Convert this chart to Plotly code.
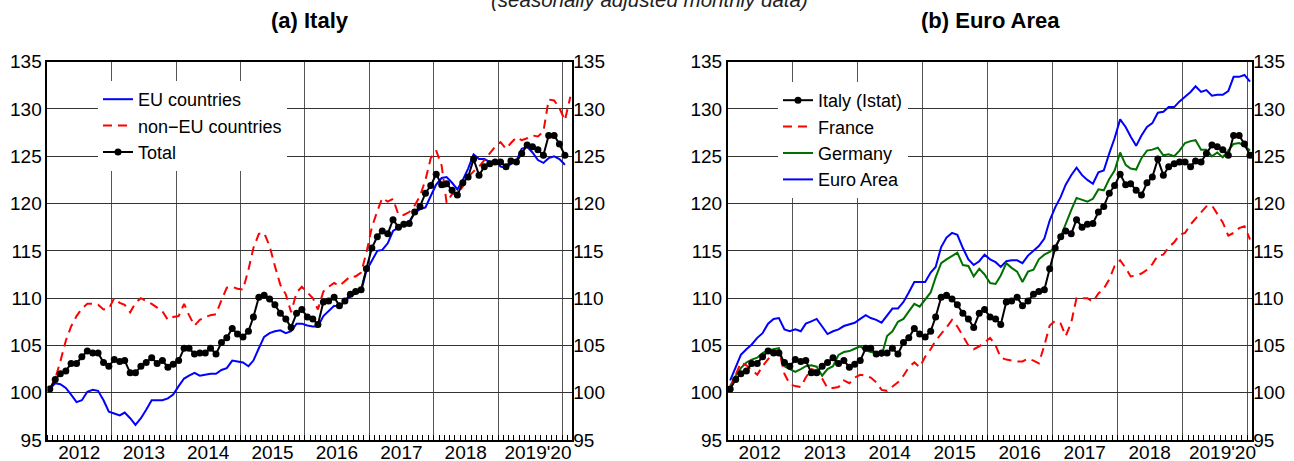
import plotly.graph_objects as go
import pandas as pd

# ---------------- data (monthly, Jan 2012 onwards) ----------------
total = [100.4, 101.4, 102.0, 102.3, 103.1, 103.1, 103.8, 104.4, 104.2, 104.2, 103.2, 102.8,
         103.5, 103.3, 103.4, 102.1, 102.1, 102.8, 103.2, 103.7, 103.1, 103.4, 102.7, 103.0,
         103.4, 104.7, 104.7, 104.1, 104.2, 104.2, 104.7, 104.1, 105.3, 105.8, 106.8, 106.2,
         105.9, 106.5, 108.0, 110.1, 110.3, 109.9, 109.3, 108.4, 107.8, 106.9, 108.4, 108.8,
         108.0, 107.8, 107.2, 109.6, 109.7, 110.1, 109.2, 109.7, 110.4, 110.7, 110.9, 113.1,
         115.3, 116.5, 117.1, 116.8, 118.3, 117.5, 117.8, 117.9, 119.1, 119.7, 121.1, 121.9,
         123.1, 122.0, 122.1, 121.4, 120.9, 122.2, 122.8, 124.7, 123.0, 123.9, 124.2, 124.4,
         124.4, 123.9, 124.5, 124.4, 125.3, 126.2, 126.0, 125.7, 125.1, 127.2, 127.2, 126.3,
         125.1]
eu = [100.4, 101.0, 100.9, 100.5, 99.8, 99.0, 99.2, 100.1, 100.3, 100.2, 99.2, 98.0,
      97.8, 97.6, 97.9, 97.3, 96.6, 97.3, 98.2, 99.2, 99.2, 99.2, 99.4, 99.8,
      100.7, 101.5, 101.8, 102.1, 101.8, 101.9, 102.0, 102.0, 102.4, 102.6, 103.4, 103.3,
      103.2, 102.8, 103.4, 104.7, 105.9, 106.3, 106.5, 106.6, 106.3, 106.5, 107.3, 107.3,
      107.1, 107.0, 107.0, 108.1, 108.6, 109.2, 109.1, 109.6, 110.2, 110.5, 110.7, 112.9,
      114.0, 115.0, 115.1, 115.8, 117.1, 117.5, 117.8, 118.1, 119.0, 119.4, 119.6, 120.8,
      122.0, 122.7, 122.8, 122.2, 121.5, 122.5, 123.7, 125.2, 124.7, 124.7, 124.4, 124.5,
      123.9, 123.8, 124.2, 124.5, 125.8, 126.0, 125.4, 124.6, 124.3, 124.8, 125.0, 124.7,
      124.1]
non_eu = [100.4, 101.5, 103.3, 105.5, 107.0, 108.1, 108.9, 109.4, 109.4, 109.3, 108.8, 108.9,
          110.0, 109.5, 109.3, 108.5, 109.5, 110.0, 109.7, 109.4, 109.0, 108.6, 107.7, 108.0,
          108.1, 109.4, 108.2, 107.1, 107.7, 108.0, 108.2, 108.3, 109.8, 111.1, 111.2, 111.0,
          110.9, 113.0, 115.3, 116.8, 116.9, 115.5, 113.4, 111.4, 110.4, 108.5, 110.6, 111.2,
          110.6, 110.0, 108.8, 110.7, 111.2, 111.6, 111.3, 111.8, 112.3, 112.3, 112.7, 114.8,
          117.5, 119.2, 120.6, 120.2, 120.5, 118.8, 118.8, 119.1, 119.8, 120.8, 122.5, 124.8,
          125.6, 124.0, 120.1, 121.0, 121.0, 121.8, 122.8, 123.4, 123.9, 124.6, 125.3, 126.0,
          126.5, 125.8, 126.4, 127.0, 126.7, 126.9, 127.2, 127.1, 127.6, 131.0, 130.9, 130.1,
          128.8, 131.3]
germany = [100.7, 101.8, 102.6, 103.2, 103.5, 103.7, 104.2, 104.5, 104.6, 104.7, 102.8, 102.5,
           102.2, 102.5, 102.8, 102.9, 102.75, 101.8, 102.5, 102.8, 104.0, 104.3, 104.4, 104.65,
           104.9, 104.5, 104.3, 104.2, 103.9, 106.0, 106.5, 107.5, 107.8, 108.6, 109.4, 109.1,
           109.9, 110.6, 112.2, 113.7, 114.1, 114.5, 114.8, 113.5, 113.4, 112.3, 113.1, 112.5,
           111.6, 111.5, 112.4, 113.7, 113.2, 112.8, 111.7, 112.8, 113.0, 114.1, 114.6, 114.9,
           115.4, 116.5, 117.9, 119.3, 120.6, 120.4, 120.2, 120.5, 121.5, 121.4, 122.6, 123.5,
           125.4, 124.1, 123.7, 123.6, 124.8, 125.6, 125.7, 125.9, 125.1, 125.2, 125.0, 125.6,
           126.4, 126.6, 126.7, 125.7, 125.7, 125.0, 125.4, 124.9, 125.6, 126.3, 126.4, 126.1,
           125.6]
euro_area = [101.3, 102.6, 104.0, 104.6, 105.1, 105.8, 106.3, 107.3, 107.8, 107.9, 106.7, 106.5,
             106.7, 106.5, 107.3, 107.55, 107.8, 107.0, 106.2, 106.5, 106.7, 107.05, 107.2, 107.4,
             107.8, 108.2, 107.9, 107.7, 107.4, 108.1, 108.9, 108.9, 109.6, 110.6, 111.7, 111.7,
             111.7, 112.7, 113.3, 115.4, 116.4, 116.9, 116.7, 115.3, 114.1, 113.5, 113.9, 114.6,
             114.1, 113.8, 113.3, 113.9, 114.0, 114.0, 113.7, 114.5, 115.0, 115.5, 116.3, 118.2,
             119.6, 120.7, 122.0, 123.0, 123.8, 123.0, 122.5, 122.1, 123.3, 123.5, 125.3, 126.9,
             128.9, 128.1, 127.1, 126.1, 127.2, 128.1, 128.5, 129.6, 129.7, 130.2, 130.2, 130.8,
             131.3, 131.8, 132.4, 131.8, 132.0, 131.4, 131.5, 131.5, 131.9, 133.4, 133.4, 133.6,
             132.9]
france = [100.5, 102.0, 103.2, 102.9, 102.4, 101.9, 102.8, 103.6, 104.3, 104.5, 102.0, 100.9,
          100.7, 100.6, 101.6, 102.5, 102.3, 101.5, 100.5, 100.5, 100.6, 101.3, 101.0, 101.6,
          101.9, 101.8, 101.6, 101.1, 100.3, 100.2, 100.6, 101.1, 101.8, 102.7, 103.2, 102.7,
          103.8, 104.6, 105.5, 106.2, 106.9, 107.7, 107.0, 106.0, 105.0, 104.6, 104.9, 105.3,
          105.8, 105.0, 103.7, 103.5, 103.4, 103.3, 103.3, 103.6, 103.4, 103.1, 105.0, 107.1,
          107.6, 107.3, 106.0, 107.4, 110.0, 110.0, 110.0, 109.6, 110.5, 111.0, 112.0, 113.4,
          114.0, 113.2, 112.3, 112.4, 112.6, 113.0, 113.6, 114.5, 114.6, 115.4, 115.9, 116.7,
          116.9, 117.8, 118.4, 119.0, 119.7, 119.8, 118.9, 118.0, 116.6, 116.9, 117.4, 117.6,
          116.2]

def months(n):
    return pd.date_range("2012-01-01", periods=n, freq="MS") + pd.Timedelta(days=14)

year_ticks = [f"{y}-01-01" for y in range(2012, 2021)]
year_text = ["2012", "2013", "2014", "2015", "2016", "2017", "2018",
             "\u00a0\u00a0\u00a02019'20", ""]
y_ticks = [95, 100, 105, 110, 115, 120, 125, 130, 135]

FONT = "Liberation Sans, Arial, sans-serif"
W, H = 1294, 461

fig = go.Figure()

# ---------------- left panel ----------------
fig.add_trace(go.Scatter(x=months(len(eu)), y=eu, name="EU countries", mode="lines",
                         line=dict(color="#0000FF", width=2), xaxis="x", yaxis="y", legend="legend"))
fig.add_trace(go.Scatter(x=months(len(non_eu)), y=non_eu, name="non\u2212EU countries", mode="lines",
                         line=dict(color="#FF0000", width=2, dash="9px,6px"), xaxis="x", yaxis="y",
                         legend="legend"))
fig.add_trace(go.Scatter(x=months(len(total)), y=total, name="Total", mode="lines+markers",
                         line=dict(color="black", width=2), marker=dict(color="black", size=7),
                         xaxis="x", yaxis="y", legend="legend"))
# same series attached to the right-hand value axis (invisible), so that axis is drawn
fig.add_trace(go.Scatter(x=months(len(total)), y=total, mode="lines", opacity=0, showlegend=False,
                         hoverinfo="skip", line=dict(width=0), xaxis="x", yaxis="y3"))

# ---------------- right panel ----------------
fig.add_trace(go.Scatter(x=months(len(euro_area)), y=euro_area, name="Euro Area", mode="lines",
                         line=dict(color="#0000FF", width=2), xaxis="x2", yaxis="y2", legend="legend2"))
fig.add_trace(go.Scatter(x=months(len(germany)), y=germany, name="Germany", mode="lines",
                         line=dict(color="#007000", width=2), xaxis="x2", yaxis="y2", legend="legend2"))
fig.add_trace(go.Scatter(x=months(len(france)), y=france, name="France", mode="lines",
                         line=dict(color="#FF0000", width=2, dash="9px,6px"), xaxis="x2", yaxis="y2",
                         legend="legend2"))
fig.add_trace(go.Scatter(x=months(len(total)), y=total, name="Italy (Istat)", mode="lines+markers",
                         line=dict(color="black", width=2), marker=dict(color="black", size=7),
                         xaxis="x2", yaxis="y2", legend="legend2"))
fig.add_trace(go.Scatter(x=months(len(total)), y=total, mode="lines", opacity=0, showlegend=False,
                         hoverinfo="skip", line=dict(width=0), xaxis="x2", yaxis="y4"))

L_DOM = [47.3 / W, 572.3 / W]
R_DOM = [727.7 / W, 1252.3 / W]
Y_DOM = [1 - 440.0 / H, 1 - 61.7 / H]

def xaxis(dom, rng, anchor):
    return dict(type="date", domain=dom, range=rng, anchor=anchor, automargin=False,
                tickmode="array", tickvals=year_ticks, ticktext=year_text, tickangle=0,
                ticklabelshift=32, ticklabelstandoff=-6, ticks="",
                showgrid=True, gridcolor="#555555", gridwidth=1.3,
                minor=dict(dtick="M1", tick0="2012-01-01", ticks="inside", ticklen=5,
                           tickcolor="black", tickwidth=1, showgrid=False),
                showline=True, mirror=True, linecolor="black", linewidth=1.5,
                tickfont=dict(size=19, color="black", family=FONT), zeroline=False)

def yaxis(anchor, side="left", overlay=None):
    d = dict(domain=Y_DOM, range=[95, 135], anchor=anchor, side=side, automargin=False,
             tickmode="array", tickvals=y_ticks, ticks="",
             tickfont=dict(size=19, color="black", family=FONT), zeroline=False)
    if overlay:
        d.update(overlaying=overlay, showgrid=False, showline=False)
    else:
        d.update(showgrid=True, gridcolor="#333333", gridwidth=1.3,
                 showline=True, mirror=True, linecolor="black", linewidth=1.5)
    return d

legend_common = dict(bgcolor="white", borderwidth=0, font=dict(size=18, color="black", family=FONT),
                     xref="paper", yref="paper", xanchor="left", yanchor="top", tracegroupgap=0)

fig.update_layout(
    width=W, height=H, autosize=False,
    margin=dict(l=0, r=0, t=0, b=0, autoexpand=False),
    paper_bgcolor="white", plot_bgcolor="white",
    font=dict(family=FONT, color="black"),
    hovermode=False,
    xaxis=xaxis(L_DOM, ["2012-01-01", "2020-02-26"], "y"),
    yaxis=yaxis("x"),
    yaxis3=yaxis("x", side="right", overlay="y"),
    xaxis2=xaxis(R_DOM, ["2012-01-01", "2020-01-28"], "y2"),
    yaxis2=yaxis("x2"),
    yaxis4=yaxis("x2", side="right", overlay="y2"),
    legend=dict(x=98 / W, y=1 - 81 / H, traceorder="normal", **legend_common),
    legend2=dict(x=778 / W, y=1 - 82 / H, traceorder="reversed", **legend_common),
    annotations=[
        dict(text="<b>(a) Italy</b>", x=(L_DOM[0] + L_DOM[1]) / 2, y=1 - 20 / H, xref="paper", yref="paper",
             showarrow=False, xanchor="center", yanchor="middle", font=dict(size=22, family=FONT, color="black")),
        dict(text="<b>(b) Euro Area</b>", x=(R_DOM[0] + R_DOM[1]) / 2, y=1 - 20 / H, xref="paper", yref="paper",
             showarrow=False, xanchor="center", yanchor="middle", font=dict(size=22, family=FONT, color="black")),
        dict(text="<i>(seasonally adjusted monthly data)</i>", x=649 / W, y=1 - 13 / H, xref="paper",
             yref="paper", showarrow=False, xanchor="center", yanchor="bottom",
             font=dict(size=20.5, family=FONT, color="#222222")),
    ],
)

fig.write_html("out.html", config={"displayModeBar": False},
               post_script="document.body.style.margin='0px';")
